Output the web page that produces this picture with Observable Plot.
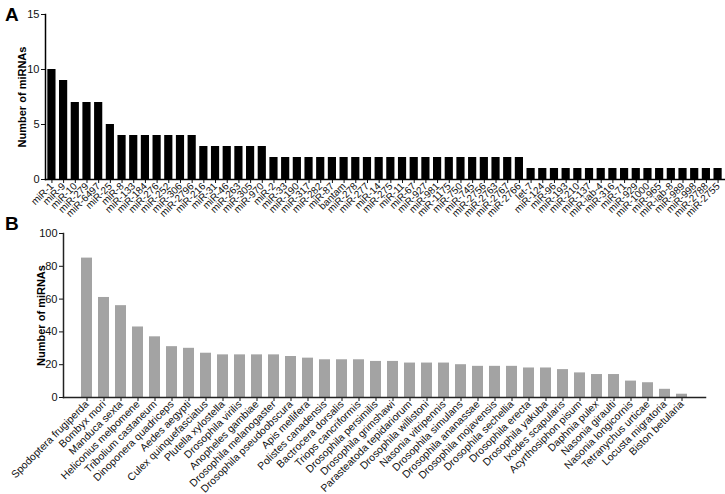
<!DOCTYPE html>
<html>
<head>
<meta charset="utf-8">
<script src="https://cdn.jsdelivr.net/npm/d3@7"></script>
<script src="https://cdn.jsdelivr.net/npm/@observablehq/plot@0.6"></script>
<style>
  body { margin: 0; background: #fff; }
  #wrap { position: relative; width: 725px; height: 494px; font-family: "Liberation Sans", Arial, sans-serif; }
  .panel { position: absolute; left: 0; }
  .panel svg { overflow: visible; }
  .tag { position: absolute; font-weight: bold; font-size: 19px; color: #000; }
</style>
</head>
<body>
<div id="wrap">
  <div class="tag" style="left:5px; top:4px;">A</div>
  <div class="tag" style="left:5px; top:213px;">B</div>
  <div id="pa" class="panel" style="top:0px;"></div>
  <div id="pb" class="panel" style="top:215px;"></div>
</div>
<script>
// Panel A: miRNA families
const mirnaNames = [
  "miR-1","miR-9","miR-10","miR-279","miR-6497","miR-25",
  "miR-8","miR-133","miR-184","miR-276","miR-252","miR-306","miR-2796",
  "miR-216","miR-31","miR-46","miR-263","miR-305","miR-970",
  "miR-2","miR-33","miR-190","miR-317","miR-282","miR-87","bantam","miR-278","miR-277",
  "miR-14","miR-275","miR-11","miR-67","miR-927","miR-981","miR-1175","miR-750","miR-745",
  "miR-2756","miR-2763","miR-2767","miR-2766",
  "let-7","miR-124","miR-96","miR-193","miR-210","miR-137","miR-iab-4","miR-316","miR-71",
  "miR-929","miR-1000","miR-965","miR-iab-8","miR-989","miR-998","miR-2788","miR-2755"
];
const mirnaCounts = [
  10,9,7,7,7,5,
  4,4,4,4,4,4,4,
  3,3,3,3,3,3,
  2,2,2,2,2,2,2,2,2,
  2,2,2,2,2,2,2,2,2,
  2,2,2,2,
  1,1,1,1,1,1,1,1,1,
  1,1,1,1,1,1,1,1
];
const yTicksA = [0,5,10,15];

// Panel B: species
const speciesNames = [
  "Spodoptera frugiperda","Bombyx mori","Manduca sexta","Heliconius melpomene",
  "Tribolium castaneum","Dinoponera quadriceps","Aedes aegypti","Culex quinquefasciatus",
  "Plutella xylostella","Drosophila virilis","Anopheles gambiae","Drosophila melanogaster",
  "Drosophila pseudoobscura","Apis mellifera","Polistes canadensis","Bactrocera dorsalis",
  "Triops cancriformis","Drosophila persimilis","Drosophila grimshawi","Parasteatoda tepidariorum",
  "Drosophila willistoni","Nasonia vitripennis","Drosophila simulans","Drosophila ananassae",
  "Drosophila mojavensis","Drosophila sechellia","Drosophila erecta","Drosophila yakuba",
  "Ixodes scapularis","Acyrthosiphon pisum","Daphnia pulex","Nasonia giraulti",
  "Nasonia longicornis","Tetranychus urticae","Locusta migratoria","Biston betularia"
];
const speciesCounts = [
  85,61,56,43,
  37,31,30,27,
  26,26,26,26,
  25,24,23,23,
  23,22,22,21,
  21,21,20,19,
  19,19,18,18,
  17,15,14,14,
  10,9,5,2
];
const yTicksB = [0,20,40,60,80,100];
const yLabel = "Number of miRNAs";

const dataA = mirnaNames.map((n, i) => ({name: n, value: mirnaCounts[i]}));
const dataB = speciesNames.map((n, i) => ({name: n, value: speciesCounts[i]}));

const font = "'Liberation Sans', Arial, sans-serif";

const plotA = Plot.plot({
  width: 725, height: 215,
  marginTop: 14, marginBottom: 36, marginLeft: 45, marginRight: 1,
  style: {fontFamily: font, fontSize: "10px", color: "#111", background: "transparent", overflow: "visible"},
  x: {domain: mirnaNames, paddingInner: 0.3, paddingOuter: 0.2, label: null},
  y: {domain: [0, 15], label: null},
  marks: [
    Plot.barY(dataA, {x: "name", y: "value", fill: "#000"}),
    Plot.axisX({tickRotate: -45, tickSize: 4, tickPadding: 1, fontSize: 10, label: null}),
    Plot.axisY({ticks: yTicksA, tickSize: 4, tickPadding: 2, fontSize: 11, label: null}),
    Plot.frame({anchor: "left", stroke: "#000", strokeWidth: 1.5}),
    Plot.frame({anchor: "bottom", stroke: "#000", strokeWidth: 1.5}),
    Plot.text([yLabel], {frameAnchor: "left", textAnchor: "middle", dx: -23, rotate: -90, fontWeight: "bold", fontSize: 11, fill: "#000"})
  ]
});

const plotB = Plot.plot({
  width: 725, height: 279,
  marginTop: 18, marginBottom: 97, marginLeft: 63, marginRight: 20,
  style: {fontFamily: font, fontSize: "10px", color: "#111", background: "transparent", overflow: "visible"},
  x: {domain: speciesNames, paddingInner: 0.34, paddingOuter: 0.24, label: null},
  y: {domain: [0, 100], label: null},
  marks: [
    Plot.barY(dataB, {x: "name", y: "value", fill: "#a3a3a3"}),
    Plot.axisX({tickRotate: -45, tickSize: 4, tickPadding: 1, fontSize: 10.5, label: null}),
    Plot.axisY({ticks: yTicksB, tickSize: 4, tickPadding: 2, fontSize: 11, label: null}),
    Plot.frame({anchor: "left", stroke: "#222", strokeWidth: 1.5}),
    Plot.frame({anchor: "bottom", stroke: "#222", strokeWidth: 1.5}),
    Plot.text([yLabel], {frameAnchor: "left", textAnchor: "middle", dx: -22, rotate: -90, fontWeight: "bold", fontSize: 11, fill: "#000"})
  ]
});

document.getElementById("pa").appendChild(plotA);
document.getElementById("pb").appendChild(plotB);
</script>
</body>
</html>
